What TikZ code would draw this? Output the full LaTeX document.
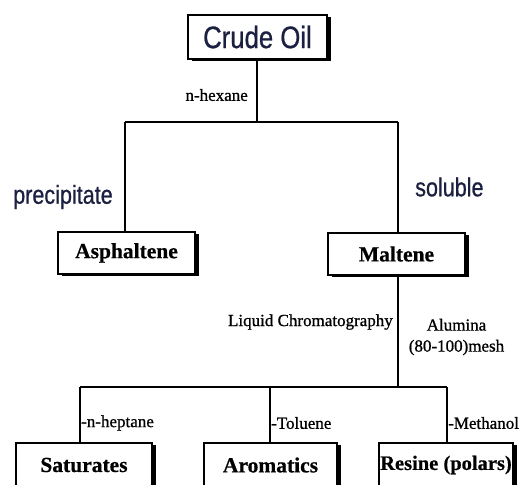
\documentclass[tikz,border=0pt]{standalone}
\usepackage{fontspec}
\setmainfont{Liberation Serif}
\newfontfamily\arialf[FakeBold=0.8]{Liberation Sans}
\newfontfamily\serifmed[FakeBold=0.9]{Liberation Serif}
\newfontfamily\serifheavy[FakeBold=0.6]{Liberation Serif Bold}
\usetikzlibrary{shadows}
\definecolor{navy}{RGB}{28,32,64}
\tikzset{
  box/.style={draw, line width=2pt, fill=white, inner sep=0pt, minimum height=44pt,
    general shadow={fill=black, shadow xshift=3.5pt, shadow yshift=-2pt},
    font=\serifheavy\fontsize{21.5}{24}\selectfont},
  conn/.style={line width=2.5pt},
  lbl/.style={inner sep=0pt, font=\serifmed\fontsize{17}{21}\selectfont},
  big/.style={inner sep=0pt, text=navy, font=\arialf\fontsize{26}{30}\selectfont}
}
\begin{document}
\begin{tikzpicture}[x=1pt, y=-1pt]
\useasboundingbox (0,0) rectangle (523,485);
\fill[white] (0,0) rectangle (523,485);
% boxes
\node[box, minimum width=139pt, minimum height=44pt, text=navy, font=\arialf\fontsize{31}{34}\selectfont] (crude) at (257.5,37) {\raisebox{-3pt}{\scalebox{0.83}[1]{Crude Oil}}\hspace{14pt}};
\node[box, minimum width=137pt, minimum height=42pt] (asph) at (126.5,253) {Asphaltene};
\node[box, minimum width=137pt, minimum height=42pt] (malt) at (396.5,254) {Maltene};
\node[box, minimum width=136pt, minimum height=44pt] (sat) at (84,465) {Saturates\hspace{8pt}};
\node[box, minimum width=133pt, minimum height=44pt] (aro) at (270.5,465) {Aromatics};
\node[box, minimum width=134pt, minimum height=44pt, font=\serifheavy\fontsize{20.5}{24}\selectfont] (res) at (446,465) {Resine (polars)};
% junctions
\coordinate (j1) at (257,122);
\coordinate (j1l) at (125,122);
\coordinate (j1r) at (398,122);
\coordinate (j2) at (398,387);
\coordinate (j2l) at (80,387);
\coordinate (j2m) at (270,387);
\coordinate (j2r) at (447,387);
% connectors
\draw[conn] (crude.south -| j1) -- (j1);
\draw[conn] (j1l) -- (j1r);
\draw[conn] (j1l) -- (j1l |- asph.north);
\draw[conn] (j1r) -- (j1r |- malt.north);
\draw[conn] (malt.south -| j2) -- (j2);
\draw[conn] (j2l) -- (j2r);
\draw[conn] (j2l) -- (j2l |- sat.north);
\draw[conn] (j2m) -- (j2m |- aro.north);
\draw[conn] (j2r) -- (j2r |- res.north);
% labels
\node[lbl, anchor=east] (hex) at (248,95) {n-hexane};
\node[big, anchor=west] (prec) at (13,197) {\scalebox{0.83}[1]{precipitate}};
\node[big, anchor=west] (sol) at (415,187) {\scalebox{0.83}[1]{soluble}};
\node[lbl, anchor=east] (lc) at (393,322) {Liquid Chromatography};
\node[lbl, align=center] (alu) at (456.5,337) {Alumina\\(80-100)mesh};
\node[lbl, anchor=west] (hep) at (81,423) {-n-heptane};
\node[lbl, anchor=west] (tol) at (271,423) {-Toluene};
\node[lbl, anchor=west] (meth) at (448,423) {-Methanol};
\end{tikzpicture}
\end{document}
